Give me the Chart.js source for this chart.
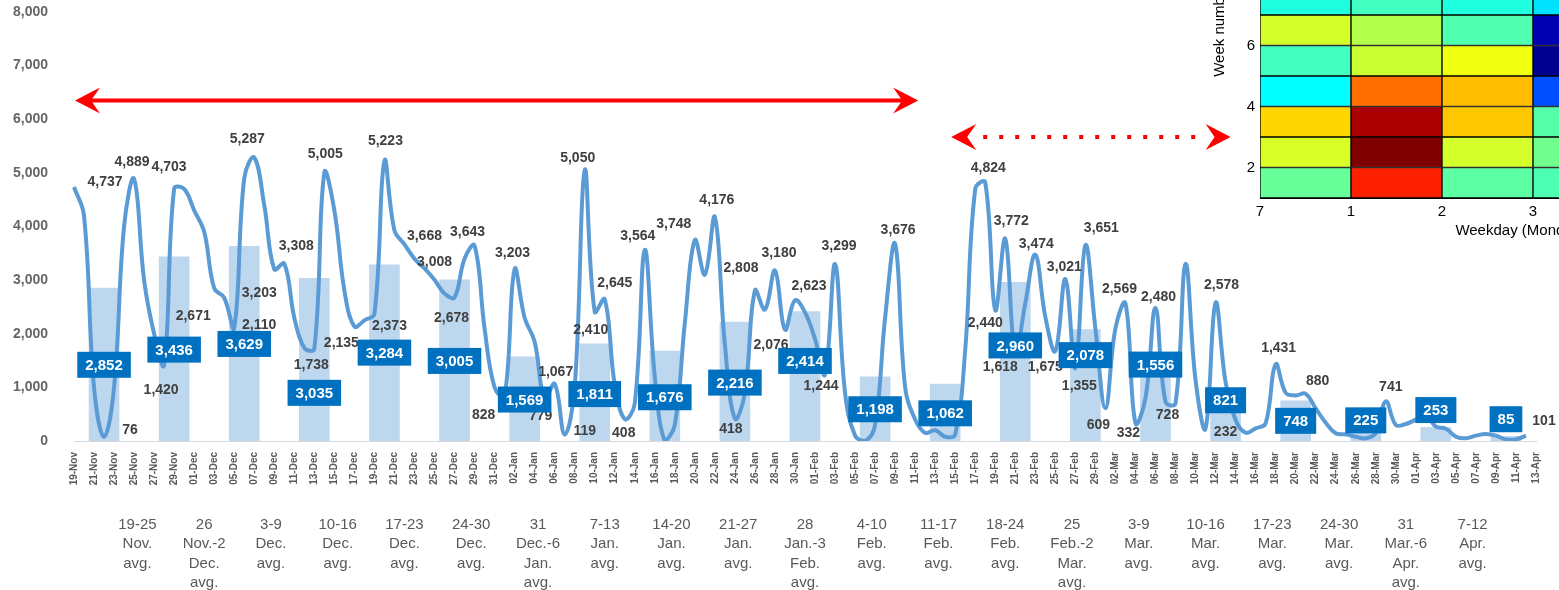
<!DOCTYPE html>
<html>
<head>
<meta charset="utf-8">
<title>Daily counts with weekly averages</title>
<script src="https://cdn.jsdelivr.net/npm/chart.js@4.4.1/dist/chart.umd.min.js"></script>
<style>
  html, body { margin: 0; padding: 0; background: #fff; overflow: hidden; }
  #wrap { position: relative; width: 1559px; height: 590px; overflow: hidden; }
  #main { position: absolute; left: 0; top: 0; }
  #heat { position: absolute; left: 1200px; top: -150px; }
</style>
</head>
<body>
<div id="wrap">
  <canvas id="main" width="1559" height="590"></canvas>
  <canvas id="heat" width="616" height="390"></canvas>
</div>
<script>
// ---- data -------------------------------------------------------------
// daily values, 19-Nov to 12-Apr
const dailyValues = [
  4737, 4200, 1000, 76, 1000, 4000, 4889,
  3000, 2000, 1420, 4703, 4700, 4300, 3900,
  2850, 2671, 2110, 4900, 5287, 4400, 3203,
  3308, 2300, 1738, 1720, 5005, 4300, 2810,
  2135, 2250, 2373, 5223, 3930, 3668, 3400,
  3220, 3008, 2750, 2678, 3400, 3643, 2100,
  1000, 828, 3203, 2300, 1850, 779, 1067,
  119, 1000, 5050, 2410, 2645, 1050, 408,
  700, 3564, 1200, 0, 300, 2200, 3748,
  3100, 4176, 1800, 418, 900, 2808, 2450,
  3180, 2076, 2623, 2400, 1900, 1244, 3299,
  900, 100, 0, 300, 2300, 3676, 1000,
  400, 150, 200, 80, 120, 1700, 4700,
  4824, 2440, 3772, 1618, 2570, 3474, 2315,
  1675, 3021, 1355, 3651, 2100, 609, 2100,
  2569, 332, 800, 2480, 728, 700, 3300,
  1136, 232, 2578, 1100, 391, 155, 236,
  329, 1431, 900, 850, 880, 608, 341,
  143, 124, 80, 50, 150, 741, 300,
  317, 400, 480, 267, 230, 81, 50,
  100, 130, 100, 30, 30, 101
];

// weekly averages (bars + blue boxes)
const weekAvg = [2852, 3436, 3629, 3035, 3284, 3005, 1569, 1811, 1676, 2216, 2414,
                 1198, 1062, 2960, 2078, 1556, 821, 748, 225, 253, 85];

const weekLabels = [
  ['19-25', 'Nov.', 'avg.'], ['26', 'Nov.-2', 'Dec.', 'avg.'], ['3-9', 'Dec.', 'avg.'],
  ['10-16', 'Dec.', 'avg.'], ['17-23', 'Dec.', 'avg.'], ['24-30', 'Dec.', 'avg.'],
  ['31', 'Dec.-6', 'Jan.', 'avg.'], ['7-13', 'Jan.', 'avg.'], ['14-20', 'Jan.', 'avg.'],
  ['21-27', 'Jan.', 'avg.'], ['28', 'Jan.-3', 'Feb.', 'avg.'], ['4-10', 'Feb.', 'avg.'],
  ['11-17', 'Feb.', 'avg.'], ['18-24', 'Feb.', 'avg.'], ['25', 'Feb.-2', 'Mar.', 'avg.'],
  ['3-9', 'Mar.', 'avg.'], ['10-16', 'Mar.', 'avg.'], ['17-23', 'Mar.', 'avg.'],
  ['24-30', 'Mar.', 'avg.'], ['31', 'Mar.-6', 'Apr.', 'avg.'], ['7-12', 'Apr.', 'avg.']
];

// inset heat map (jet colour scale 0..1), rows = week 1..7 from bottom, cols = weekday 7,1,2,3
const heatRows = [
  [0.475, 0.844, 0.465, 0.45],
  [0.588, 1.0, 0.583, 0.485],
  [0.665, 0.958, 0.68, 0.458],
  [0.375, 0.765, 0.688, 0.203],
  [0.438, 0.575, 0.61, 0.015],
  [0.583, 0.55, 0.453, 0.05],
  [0.406, 0.438, 0.406, 0.345]
];
const weekdayTicks = ['7', '1', '2', '3', '4', '5', '6'];

// ---- layout helpers (placement only, not data) -------------------------
// [day index, dx, dy] for the value labels on the daily line
const labelSpots = [
  [0, 31, -5], [3, 26, -7], [6, -2, -17], [9, -3, 25], [10, -5, -22], [15, -31, 18],
  [16, 25, -3], [18, -7, -18], [20, -15, 24], [21, 12, -17], [23, 7, 17], [25, 1, -18],
  [28, -13, 17], [30, 15, 12], [31, 1, -20], [33, 20, -8], [36, 0, -18], [38, -3, 21],
  [40, -7, -14], [43, -21, 19], [44, -2, -16], [47, -4, 17], [48, 1, -12], [49, 20, -3],
  [51, -7, -12], [52, -4, 18], [53, 10, -16], [55, -1, 14], [57, -7, -14], [62, -21, -16],
  [64, 2, -17], [66, -4, 11], [68, -14, -22], [70, 4, -17], [71, -14, 15], [72, 14, -14],
  [75, -4, 12], [76, 4, -18], [82, 3, -14], [91, 3, -14], [92, -10, 13], [93, 6, -18],
  [94, -15, 13], [96, 1, -11], [98, -10, 16], [99, -1, -12], [100, 4, 18], [101, 16, -17],
  [103, -7, 17], [105, -6, -14], [106, -7, 10], [108, 3, -11], [109, 2, 13], [113, 20, 4],
  [114, 6, -18], [120, 3, -16], [123, 12, -13], [131, 5, -14], [145, 18, -14]
];
// height (in value units) where each weekly box sits
const boxLevel = [1421, 1704, 1810, 898, 1648, 1493, 773, 875, 816, 1089, 1493,
                  592, 516, 1782, 1601, 1425, 760, 376, 385, 577, 406];
// red arrows, in day / value units
const arrowMarks = [
  { from: 0.1, to: 84.3, at: 6350, dotted: false },
  { from: 87.6, to: 115.5, at: 5667, dotted: true }
];

// ---- derived -----------------------------------------------------------
const months = ['Jan','Feb','Mar','Apr','May','Jun','Jul','Aug','Sep','Oct','Nov','Dec'];
const dayLabels = [];
for (let i = 0; i < 147; i++) {
  const d = new Date(2019, 10, 19 + i);
  dayLabels.push(String(d.getDate()).padStart(2, '0') + '-' + months[d.getMonth()]);
}
const weekMid = weekAvg.map((_, k) => 3 + 7 * k);
const barData = dayLabels.map((_, i) => {
  const k = weekMid.indexOf(i);
  return k < 0 ? null : weekAvg[k];
});

Chart.defaults.font.family = '"Liberation Sans", Arial, sans-serif';

function jet(v) {
  const c = t => Math.round(255 * Math.max(0, Math.min(1, t)));
  const r = c(Math.min(4 * v - 1.5, -4 * v + 4.5));
  const g = c(Math.min(4 * v - 0.5, -4 * v + 3.5));
  const b = c(Math.min(4 * v + 0.5, -4 * v + 2.5));
  return `rgb(${r},${g},${b})`;
}

function arrowHead(ctx, tipX, yy, dir) {
  ctx.beginPath();
  ctx.moveTo(tipX, yy);
  ctx.lineTo(tipX - dir * 25, yy - 13);
  ctx.lineTo(tipX - dir * 16, yy);
  ctx.lineTo(tipX - dir * 25, yy + 13);
  ctx.closePath();
  ctx.fill();
}

const overlay = {
  id: 'overlay',
  afterDatasetsDraw(chart) {
    const { ctx, scales: { x, y } } = chart;
    const pts = chart.getDatasetMeta(1).data;
    ctx.save();
    ctx.textAlign = 'center';
    ctx.textBaseline = 'middle';

    // values on the daily curve
    ctx.font = 'bold 14px "Liberation Sans", Arial, sans-serif';
    ctx.fillStyle = '#404040';
    labelSpots.forEach(([d, dx, dy]) => {
      const p = pts[d];
      ctx.fillText(dailyValues[d].toLocaleString('en-US'), p.x + dx, p.y + dy);
    });

    // weekly average boxes
    ctx.font = 'bold 15px "Liberation Sans", Arial, sans-serif';
    weekAvg.forEach((v, k) => {
      const t = v.toLocaleString('en-US');
      const w = ctx.measureText(t).width + 16, h = 26;
      const cx = x.getPixelForValue(weekMid[k]);
      const cy = y.getPixelForValue(boxLevel[k]);
      ctx.fillStyle = '#0070c0';
      ctx.fillRect(cx - w / 2, cy - h / 2, w, h);
      ctx.fillStyle = '#ffffff';
      ctx.fillText(t, cx, cy + 1);
    });

    // red arrows
    ctx.fillStyle = '#ff0000';
    ctx.strokeStyle = '#ff0000';
    ctx.lineWidth = 4;
    arrowMarks.forEach(a => {
      const x1 = x.getPixelForValue(a.from), x2 = x.getPixelForValue(a.to);
      const yy = y.getPixelForValue(a.at);
      ctx.beginPath();
      if (a.dotted) {
        ctx.setLineDash([4, 12]);
        ctx.moveTo(x1 + 32, yy);
        ctx.lineTo(x2 - 26, yy);
      } else {
        ctx.setLineDash([]);
        ctx.moveTo(x1 + 16, yy);
        ctx.lineTo(x2 - 16, yy);
      }
      ctx.stroke();
      ctx.setLineDash([]);
      arrowHead(ctx, x1, yy, -1);
      arrowHead(ctx, x2, yy, 1);
    });
    ctx.restore();
  }
};

// ---- main chart ---------------------------------------------------------
new Chart(document.getElementById('main'), {
  type: 'bar',
  data: {
    labels: dayLabels,
    datasets: [
      {
        type: 'bar',
        data: barData,
        backgroundColor: '#bdd7ee',
        barThickness: 30,
        order: 2
      },
      {
        type: 'line',
        data: dailyValues,
        borderColor: '#5b9bd5',
        borderWidth: 4,
        pointRadius: 0,
        tension: 0.4,
        fill: false,
        order: 1
      }
    ]
  },
  options: {
    responsive: false,
    animation: false,
    layout: { padding: { top: 12, right: 19, left: 0, bottom: 0 } },
    plugins: { legend: { display: false }, tooltip: { enabled: false } },
    scales: {
      x: {
        type: 'category',
        offset: false,
        grid: { display: false, offset: false, drawTicks: false },
        border: { display: true, color: '#d9d9d9', width: 1 },
        ticks: {
          autoSkip: false, minRotation: 90, maxRotation: 90, padding: 11,
          color: '#595959', font: { size: 10, weight: 'bold' },
          callback: (v, i) => (i % 2 === 0 ? dayLabels[i] : null)
        },
        afterFit: s => { s.height = 66; }
      },
      xw: {
        type: 'linear',
        position: 'bottom',
        min: 0,
        max: dayLabels.length - 1,
        grid: { display: false, drawTicks: false },
        border: { display: false },
        afterBuildTicks: s => { s.ticks = weekMid.map(v => ({ value: v })); },
        ticks: {
          autoSkip: false, maxRotation: 0, padding: 8,
          color: '#595959', font: { size: 15, lineHeight: 1.3 },
          callback: (v, i) => weekLabels[i]
        },
        afterFit: s => { s.height = 83; }
      },
      y: {
        min: 0,
        max: 8000,
        grid: { display: false, drawTicks: false },
        border: { display: false },
        ticks: {
          stepSize: 1000, padding: 26, color: '#666666',
          font: { size: 14, weight: 'bold' },
          callback: v => v.toLocaleString('en-US')
        },
        afterFit: s => { s.width = 74; s.paddingTop = 0; s.paddingBottom = 0; }
      }
    }
  },
  plugins: [overlay]
});

// ---- inset heat map -----------------------------------------------------
new Chart(document.getElementById('heat'), {
  type: 'bar',
  data: {
    datasets: heatRows.map((row, r) => ({
      data: row.map((v, c) => ({ x: c + 0.5, y: [r + 1, r + 2] })),
      backgroundColor: row.map(jet),
      borderColor: '#000000',
      borderWidth: 1,
      borderSkipped: false,
      barPercentage: 1,
      categoryPercentage: 1,
      grouped: false
    }))
  },
  options: {
    responsive: false,
    animation: false,
    layout: { padding: { top: 12.5, right: 10, left: 0, bottom: 0 } },
    plugins: { legend: { display: false }, tooltip: { enabled: false } },
    scales: {
      x: {
        type: 'linear', min: 0, max: 6, offset: false,
        grid: { display: false, drawTicks: false, offset: false },
        border: { color: '#000000', width: 1 },
        afterBuildTicks: s => { s.ticks = weekdayTicks.map((_, i) => ({ value: i })); },
        ticks: { padding: 5, color: '#000', font: { size: 15 }, maxRotation: 0, autoSkip: false,
                 callback: v => weekdayTicks[v] },
        title: { display: true, text: 'Weekday (Monday = 1)', color: '#000', font: { size: 15 },
                 padding: { top: 0, bottom: 0 } },
        afterFit: s => { s.height = 42; s.paddingLeft = 0; s.paddingRight = 0; }
      },
      y: {
        type: 'linear', min: 1, max: 12,
        grid: { display: false, drawTicks: false },
        border: { color: '#000000', width: 1 },
        afterBuildTicks: s => { s.ticks = [2, 4, 6, 8, 10].map(v => ({ value: v })); },
        ticks: { padding: 5, color: '#000', font: { size: 15 } },
        title: { display: true, text: 'Week number', color: '#000', font: { size: 15 },
                 padding: { top: 11, bottom: 0 } },
        afterFit: s => { s.width = 60; s.paddingTop = 0; s.paddingBottom = 0; }
      }
    }
  }
});
</script>
</body>
</html>
